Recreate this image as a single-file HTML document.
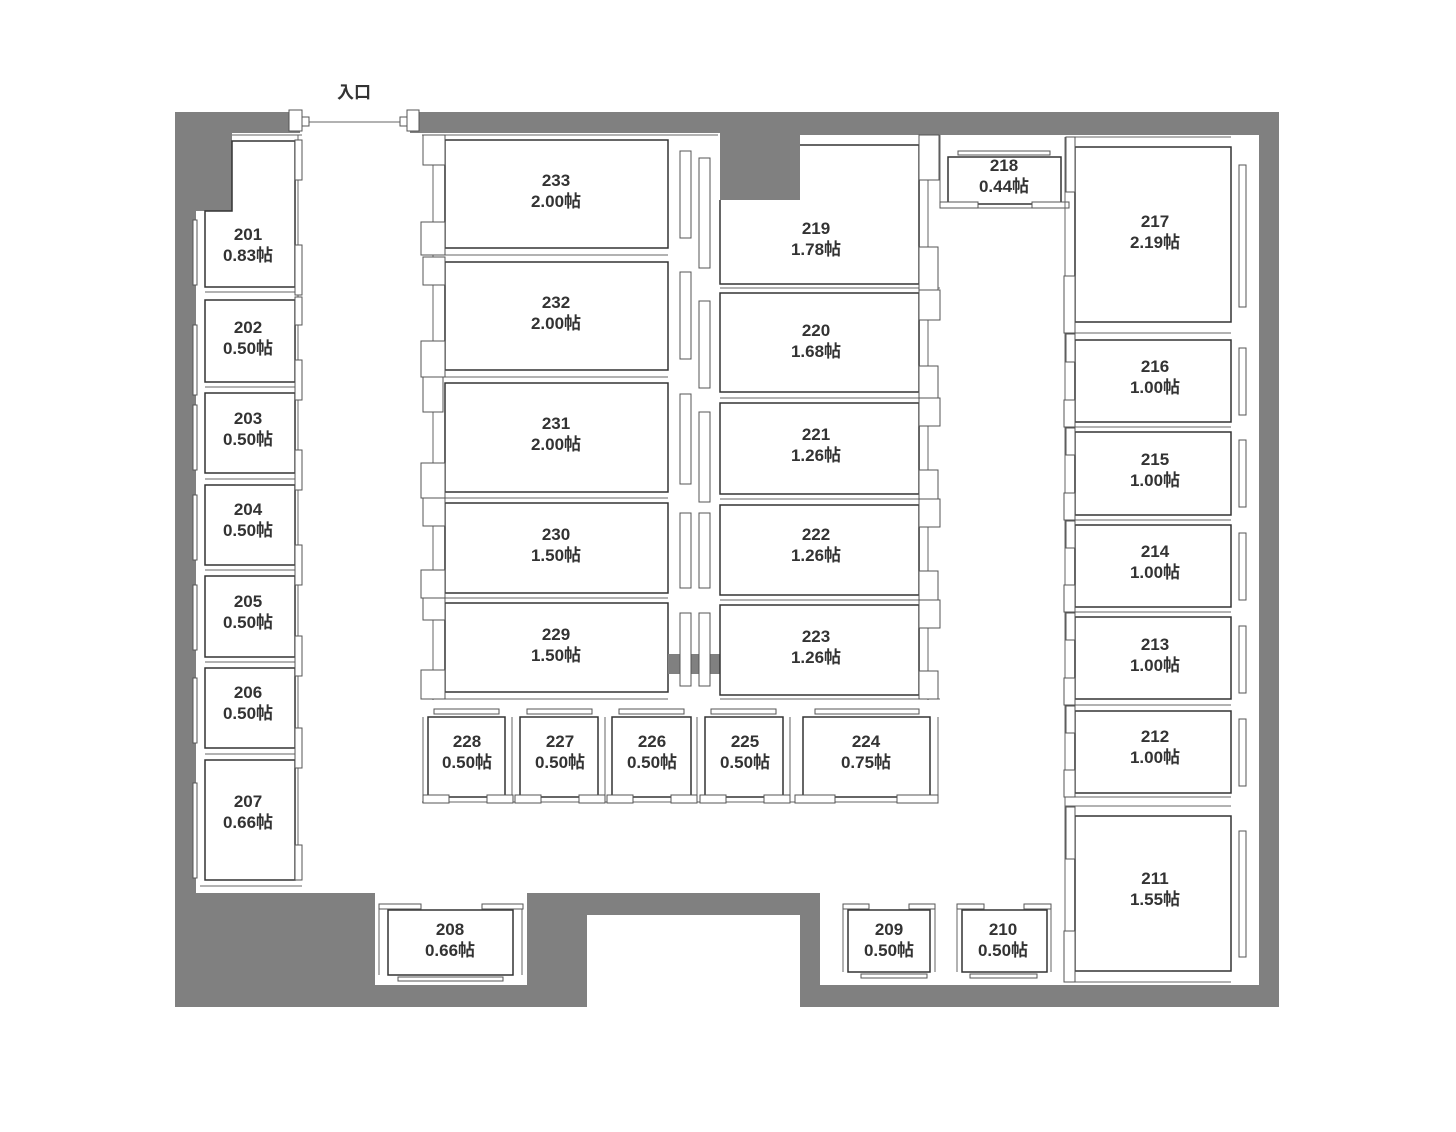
<!DOCTYPE html>
<html><head><meta charset="utf-8"><style>
html,body{margin:0;padding:0;background:#fff}
svg{display:block}
text{font-family:"Liberation Sans","Noto Sans CJK JP",sans-serif;font-weight:bold;font-size:17px;fill:#333;text-anchor:middle}
.r{fill:#fff;stroke:#333;stroke-width:1.5}
.o{fill:none;stroke:#777;stroke-width:1}
.j{fill:#fff;stroke:#555;stroke-width:1}
.l{stroke:#666;stroke-width:1;fill:none}
</style></head><body>
<svg width="1456" height="1132" viewBox="0 0 1456 1132" xmlns="http://www.w3.org/2000/svg">
<path fill="#808080" fill-rule="evenodd" d="M175 112H1279V1007H800V915H587V1007H175Z M232 133H720V200H800V135H1259V985H820V893H527V985H375V893H196V211H232Z"/>
<!-- entrance -->
<rect x="300" y="112" width="110" height="21" fill="#fff"/>
<line x1="305" y1="122" x2="405" y2="122" class="l"/>
<rect x="289" y="110" width="13" height="21" class="j"/><rect x="407" y="110" width="12" height="21" class="j"/>
<rect x="302" y="117" width="7" height="9" class="j"/><rect x="400" y="117" width="7" height="9" class="j"/>
<text x="354" y="98">入口</text>

<!-- left column line -->
<line x1="232" y1="135" x2="302" y2="135" class="l"/>
<line x1="298" y1="135" x2="298" y2="880" class="l"/>
<g>
<path d="M232 141H295V287H205V211H232Z" class="r"/>
<rect x="205" y="300" width="90" height="82" class="r"/>
<rect x="205" y="393" width="90" height="80" class="r"/>
<rect x="205" y="485" width="90" height="80" class="r"/>
<rect x="205" y="576" width="90" height="81" class="r"/>
<rect x="205" y="668" width="90" height="80" class="r"/>
<rect x="205" y="760" width="90" height="120" class="r"/>
<line x1="205" y1="292" x2="302" y2="292" class="l"/><line x1="205" y1="387" x2="302" y2="387" class="l"/>
<line x1="205" y1="479" x2="302" y2="479" class="l"/><line x1="205" y1="570" x2="302" y2="570" class="l"/>
<line x1="205" y1="662" x2="302" y2="662" class="l"/><line x1="205" y1="754" x2="302" y2="754" class="l"/>
<line x1="200" y1="886" x2="302" y2="886" class="l"/>
</g>
<g>
<rect x="295" y="140" width="7" height="40" class="j"/><rect x="295" y="245" width="7" height="50" class="j"/>
<rect x="295" y="297" width="7" height="28" class="j"/><rect x="295" y="360" width="7" height="40" class="j"/>
<rect x="295" y="450" width="7" height="40" class="j"/><rect x="295" y="545" width="7" height="40" class="j"/>
<rect x="295" y="636" width="7" height="40" class="j"/><rect x="295" y="728" width="7" height="40" class="j"/>
<rect x="295" y="845" width="7" height="35" class="j"/>
<rect x="193" y="220" width="4" height="65" class="j"/><rect x="193" y="325" width="4" height="70" class="j"/>
<rect x="193" y="405" width="4" height="65" class="j"/><rect x="193" y="495" width="4" height="65" class="j"/>
<rect x="193" y="585" width="4" height="65" class="j"/><rect x="193" y="678" width="4" height="65" class="j"/>
<rect x="193" y="783" width="4" height="95" class="j"/>
</g>
<text x="248" y="240">201</text><text x="248" y="261">0.83帖</text>
<text x="248" y="333">202</text><text x="248" y="354">0.50帖</text>
<text x="248" y="424">203</text><text x="248" y="445">0.50帖</text>
<text x="248" y="515">204</text><text x="248" y="536">0.50帖</text>
<text x="248" y="607">205</text><text x="248" y="628">0.50帖</text>
<text x="248" y="698">206</text><text x="248" y="719">0.50帖</text>
<text x="248" y="807">207</text><text x="248" y="828">0.66帖</text>

<!-- center-left column -->
<line x1="433" y1="135" x2="433" y2="700" class="l"/>
<line x1="422" y1="135" x2="718" y2="135" class="l"/>
<rect x="445" y="140" width="223" height="108" class="r"/>
<rect x="445" y="262" width="223" height="108" class="r"/>
<rect x="445" y="383" width="223" height="109" class="r"/>
<rect x="445" y="503" width="223" height="90" class="r"/>
<rect x="445" y="603" width="223" height="89" class="r"/>
<line x1="422" y1="255" x2="668" y2="255" class="l"/><line x1="422" y1="377" x2="668" y2="377" class="l"/>
<line x1="422" y1="498" x2="668" y2="498" class="l"/><line x1="422" y1="598" x2="668" y2="598" class="l"/>
<line x1="422" y1="699" x2="668" y2="699" class="l"/>
<g>
<rect x="423" y="135" width="22" height="30" class="j"/><rect x="421" y="222" width="24" height="33" class="j"/>
<rect x="423" y="257" width="22" height="28" class="j"/><rect x="421" y="341" width="24" height="36" class="j"/>
<rect x="423" y="377" width="20" height="35" class="j"/><rect x="421" y="463" width="24" height="35" class="j"/>
<rect x="423" y="498" width="22" height="28" class="j"/><rect x="421" y="570" width="24" height="28" class="j"/>
<rect x="423" y="598" width="22" height="22" class="j"/><rect x="421" y="670" width="24" height="29" class="j"/>
</g>
<text x="556" y="186">233</text><text x="556" y="207">2.00帖</text>
<text x="556" y="308">232</text><text x="556" y="329">2.00帖</text>
<text x="556" y="429">231</text><text x="556" y="450">2.00帖</text>
<text x="556" y="540">230</text><text x="556" y="561">1.50帖</text>
<text x="556" y="640">229</text><text x="556" y="661">1.50帖</text>

<!-- corridor bars -->
<rect x="668" y="654" width="52" height="20" fill="#808080"/>
<g>
<rect x="680" y="151" width="11" height="87" class="j"/><rect x="699" y="158" width="11" height="110" class="j"/>
<rect x="680" y="272" width="11" height="87" class="j"/><rect x="699" y="301" width="11" height="87" class="j"/>
<rect x="680" y="394" width="11" height="90" class="j"/><rect x="699" y="412" width="11" height="90" class="j"/>
<rect x="680" y="513" width="11" height="75" class="j"/><rect x="699" y="513" width="11" height="75" class="j"/>
<rect x="680" y="613" width="11" height="73" class="j"/><rect x="699" y="613" width="11" height="73" class="j"/>
</g>

<!-- center-right column -->
<line x1="928" y1="135" x2="928" y2="700" class="l"/>
<path d="M800 145H919V284H720V200" fill="none" stroke="#333" stroke-width="1.5"/>
<rect x="720" y="293" width="199" height="99" class="r"/>
<rect x="720" y="403" width="199" height="91" class="r"/>
<rect x="720" y="505" width="199" height="90" class="r"/>
<rect x="720" y="605" width="199" height="90" class="r"/>
<line x1="720" y1="288" x2="940" y2="288" class="l"/><line x1="720" y1="398" x2="940" y2="398" class="l"/>
<line x1="720" y1="499" x2="940" y2="499" class="l"/><line x1="720" y1="600" x2="940" y2="600" class="l"/>
<line x1="720" y1="699" x2="940" y2="699" class="l"/>
<g>
<rect x="919" y="135" width="20" height="45" class="j"/><rect x="919" y="247" width="19" height="45" class="j"/>
<rect x="919" y="290" width="21" height="30" class="j"/><rect x="919" y="366" width="19" height="32" class="j"/>
<rect x="919" y="398" width="21" height="28" class="j"/><rect x="919" y="470" width="19" height="29" class="j"/>
<rect x="919" y="499" width="21" height="28" class="j"/><rect x="919" y="571" width="19" height="29" class="j"/>
<rect x="919" y="600" width="21" height="28" class="j"/><rect x="919" y="671" width="19" height="28" class="j"/>
</g>
<text x="816" y="234">219</text><text x="816" y="255">1.78帖</text>
<text x="816" y="336">220</text><text x="816" y="357">1.68帖</text>
<text x="816" y="440">221</text><text x="816" y="461">1.26帖</text>
<text x="816" y="540">222</text><text x="816" y="561">1.26帖</text>
<text x="816" y="642">223</text><text x="816" y="663">1.26帖</text>

<!-- bottom row -->
<g>
<rect x="428" y="717" width="77" height="80" class="r"/>
<rect x="520" y="717" width="78" height="80" class="r"/>
<rect x="612" y="717" width="79" height="80" class="r"/>
<rect x="705" y="717" width="78" height="80" class="r"/>
<rect x="803" y="717" width="127" height="80" class="r"/>
<line x1="422" y1="802" x2="938" y2="802" class="l"/>
<line x1="423" y1="717" x2="423" y2="802" class="l"/><line x1="938" y1="717" x2="938" y2="802" class="l"/>
<line x1="512" y1="717" x2="512" y2="802" class="l"/><line x1="605" y1="717" x2="605" y2="802" class="l"/>
<line x1="697" y1="717" x2="697" y2="802" class="l"/><line x1="790" y1="717" x2="790" y2="802" class="l"/>
<rect x="434" y="709" width="65" height="5" class="j"/><rect x="527" y="709" width="65" height="5" class="j"/>
<rect x="619" y="709" width="65" height="5" class="j"/><rect x="711" y="709" width="65" height="5" class="j"/>
<rect x="815" y="709" width="104" height="5" class="j"/>
<rect x="423" y="795" width="26" height="8" class="j"/><rect x="487" y="795" width="26" height="8" class="j"/>
<rect x="515" y="795" width="26" height="8" class="j"/><rect x="579" y="795" width="26" height="8" class="j"/>
<rect x="607" y="795" width="26" height="8" class="j"/><rect x="671" y="795" width="26" height="8" class="j"/>
<rect x="700" y="795" width="26" height="8" class="j"/><rect x="764" y="795" width="26" height="8" class="j"/>
<rect x="795" y="795" width="40" height="8" class="j"/><rect x="897" y="795" width="41" height="8" class="j"/>
</g>
<text x="467" y="747">228</text><text x="467" y="768">0.50帖</text>
<text x="560" y="747">227</text><text x="560" y="768">0.50帖</text>
<text x="652" y="747">226</text><text x="652" y="768">0.50帖</text>
<text x="745" y="747">225</text><text x="745" y="768">0.50帖</text>
<text x="866" y="747">224</text><text x="866" y="768">0.75帖</text>

<!-- 218 -->
<rect x="948" y="157" width="113" height="47" class="r"/>
<line x1="940" y1="135" x2="940" y2="208" class="l"/>
<line x1="940" y1="208" x2="1069" y2="208" class="l"/>
<rect x="958" y="151" width="92" height="4" class="j"/>
<rect x="940" y="202" width="38" height="6" class="j"/><rect x="1032" y="202" width="37" height="6" class="j"/>
<text x="1004" y="171">218</text><text x="1004" y="192">0.44帖</text>

<!-- right column -->
<line x1="1065" y1="137" x2="1065" y2="982" class="l"/>
<line x1="1069" y1="137" x2="1231" y2="137" class="l"/>
<rect x="1075" y="147" width="156" height="175" class="r"/>
<rect x="1075" y="340" width="156" height="82" class="r"/>
<rect x="1075" y="432" width="156" height="83" class="r"/>
<rect x="1075" y="525" width="156" height="82" class="r"/>
<rect x="1075" y="617" width="156" height="82" class="r"/>
<rect x="1075" y="711" width="156" height="82" class="r"/>
<rect x="1075" y="816" width="156" height="155" class="r"/>
<line x1="1065" y1="333" x2="1231" y2="333" class="l"/><line x1="1065" y1="427" x2="1231" y2="427" class="l"/>
<line x1="1065" y1="520" x2="1231" y2="520" class="l"/><line x1="1065" y1="612" x2="1231" y2="612" class="l"/>
<line x1="1065" y1="705" x2="1231" y2="705" class="l"/><line x1="1065" y1="797" x2="1231" y2="797" class="l"/>
<line x1="1065" y1="806" x2="1231" y2="806" class="l"/><line x1="1065" y1="982" x2="1231" y2="982" class="l"/>
<g>
<rect x="1066" y="137" width="9" height="55" class="j"/><rect x="1064" y="276" width="11" height="57" class="j"/>
<rect x="1066" y="334" width="9" height="28" class="j"/><rect x="1064" y="400" width="11" height="27" class="j"/>
<rect x="1066" y="428" width="9" height="27" class="j"/><rect x="1064" y="493" width="11" height="27" class="j"/>
<rect x="1066" y="521" width="9" height="27" class="j"/><rect x="1064" y="585" width="11" height="27" class="j"/>
<rect x="1066" y="613" width="9" height="27" class="j"/><rect x="1064" y="678" width="11" height="27" class="j"/>
<rect x="1066" y="706" width="9" height="27" class="j"/><rect x="1064" y="770" width="11" height="27" class="j"/>
<rect x="1066" y="807" width="9" height="52" class="j"/><rect x="1064" y="931" width="11" height="51" class="j"/>
<rect x="1239" y="165" width="7" height="142" class="j"/><rect x="1239" y="348" width="7" height="67" class="j"/>
<rect x="1239" y="440" width="7" height="67" class="j"/><rect x="1239" y="533" width="7" height="67" class="j"/>
<rect x="1239" y="626" width="7" height="67" class="j"/><rect x="1239" y="719" width="7" height="67" class="j"/>
<rect x="1239" y="831" width="7" height="126" class="j"/>
</g>
<text x="1155" y="227">217</text><text x="1155" y="248">2.19帖</text>
<text x="1155" y="372">216</text><text x="1155" y="393">1.00帖</text>
<text x="1155" y="465">215</text><text x="1155" y="486">1.00帖</text>
<text x="1155" y="557">214</text><text x="1155" y="578">1.00帖</text>
<text x="1155" y="650">213</text><text x="1155" y="671">1.00帖</text>
<text x="1155" y="742">212</text><text x="1155" y="763">1.00帖</text>
<text x="1155" y="884">211</text><text x="1155" y="905">1.55帖</text>

<!-- 208,209,210 -->
<rect x="388" y="910" width="125" height="65" class="r"/>
<line x1="379" y1="904" x2="379" y2="975" class="l"/><line x1="522" y1="904" x2="522" y2="975" class="l"/>
<rect x="379" y="904" width="42" height="5" class="j"/><rect x="482" y="904" width="41" height="5" class="j"/>
<rect x="398" y="977" width="105" height="4" class="j"/>
<text x="450" y="935">208</text><text x="450" y="956">0.66帖</text>

<rect x="848" y="910" width="82" height="62" class="r"/>
<line x1="843" y1="904" x2="843" y2="972" class="l"/><line x1="935" y1="904" x2="935" y2="972" class="l"/>
<rect x="843" y="904" width="26" height="5" class="j"/><rect x="909" y="904" width="26" height="5" class="j"/>
<rect x="861" y="974" width="66" height="4" class="j"/>
<text x="889" y="935">209</text><text x="889" y="956">0.50帖</text>

<rect x="962" y="910" width="85" height="62" class="r"/>
<line x1="957" y1="904" x2="957" y2="972" class="l"/><line x1="1051" y1="904" x2="1051" y2="972" class="l"/>
<rect x="957" y="904" width="27" height="5" class="j"/><rect x="1024" y="904" width="27" height="5" class="j"/>
<rect x="970" y="974" width="67" height="4" class="j"/>
<text x="1003" y="935">210</text><text x="1003" y="956">0.50帖</text>
</svg>
</body></html>
